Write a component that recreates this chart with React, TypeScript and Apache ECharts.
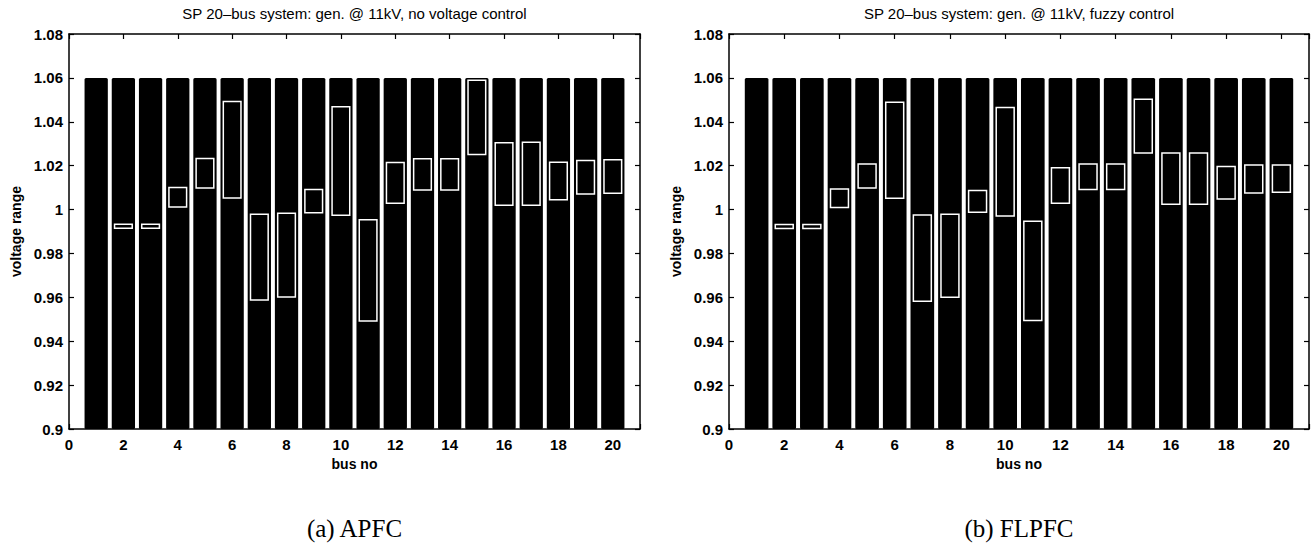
import React, { useEffect, useRef } from "react";
import * as echarts from "echarts";

// ---- data ----
const busNumbers = [1, 2, 3, 4, 5, 6, 7, 8, 9, 10, 11, 12, 13, 14, 15, 16, 17, 18, 19, 20];
const limitLow = [0.9, 0.9, 0.9, 0.9, 0.9, 0.9, 0.9, 0.9, 0.9, 0.9, 0.9, 0.9, 0.9, 0.9, 0.9, 0.9, 0.9, 0.9, 0.9, 0.9];
const limitHigh = [1.06, 1.06, 1.06, 1.06, 1.06, 1.06, 1.06, 1.06, 1.06, 1.06, 1.06, 1.06, 1.06, 1.06, 1.06, 1.06, 1.06, 1.06, 1.06, 1.06];

const apfcMin = [null, 0.9915, 0.9915, 1.0012, 1.0098, 1.0053, 0.9588, 0.9601, 0.9986, 0.9974, 0.9492, 1.0029, 1.0089, 1.0089, 1.0251, 1.002, 1.002, 1.0045, 1.0071, 1.0074];
const apfcMax = [null, 0.9933, 0.9933, 1.01, 1.0233, 1.0492, 0.9979, 0.9983, 1.0091, 1.0468, 0.9953, 1.0214, 1.0232, 1.0232, 1.0589, 1.0305, 1.0307, 1.0216, 1.0224, 1.0227];

const flpfcMin = [null, 0.9914, 0.9914, 1.0009, 1.0098, 1.0051, 0.9582, 0.96, 0.9988, 0.9971, 0.9494, 1.0029, 1.0091, 1.0091, 1.0258, 1.0024, 1.0024, 1.0048, 1.0076, 1.0079];
const flpfcMax = [null, 0.9932, 0.9932, 1.0094, 1.0208, 1.0489, 0.9975, 0.9979, 1.0087, 1.0465, 0.9947, 1.0191, 1.0208, 1.0208, 1.0503, 1.0258, 1.0258, 1.0196, 1.0203, 1.0203];

const yTickValues = [0.9, 0.92, 0.94, 0.96, 0.98, 1, 1.02, 1.04, 1.06, 1.08];
const xTickValues = [0, 2, 4, 6, 8, 10, 12, 14, 16, 18, 20];

const titles = [
  "SP 20\u2013bus system: gen. @ 11kV, no voltage control",
  "SP 20\u2013bus system: gen. @ 11kV, fuzzy control",
];
const captions = ["(a) APFC", "(b) FLPFC"];

const SANS = "'Liberation Sans', Arial, Helvetica, sans-serif";
const SERIF = "'Liberation Serif', 'Times New Roman', serif";

const grids = [
  { left: 69, top: 34, width: 571, height: 395 },
  { left: 729, top: 34, width: 580, height: 395 },
];

export default function App() {
  const ref = useRef<HTMLDivElement>(null);

  useEffect(() => {
    document.body.style.margin = "0";
    if (!ref.current) return;
    const chart = echarts.init(ref.current, null, { renderer: "svg" });

    const yMin = yTickValues[0];
    const yMax = yTickValues[yTickValues.length - 1];

    const xAxes: any[] = [];
    const yAxes: any[] = [];
    const series: any[] = [];
    const graphics: any[] = [];

    const ranges = [
      [apfcMin, apfcMax],
      [flpfcMin, flpfcMax],
    ];

    grids.forEach((g, gi) => {
      const axisLine = { show: true, onZero: false, lineStyle: { color: "#000", width: 1.5 } };
      const tick = { show: true, inside: true, length: 5, lineStyle: { color: "#000", width: 1.2 } };
      xAxes.push({
        type: "value",
        gridIndex: gi,
        position: "bottom",
        min: 0,
        max: 21,
        interval: 2,
        axisLine,
        axisTick: tick,
        splitLine: { show: false },
        axisLabel: {
          color: "#000",
          fontFamily: SANS,
          fontWeight: "bold",
          fontSize: 15,
          margin: 8,
          formatter: (v: number) => (xTickValues.includes(v) ? String(v) : ""),
        },
        name: "bus no",
        nameLocation: "middle",
        nameGap: 27,
        nameTextStyle: { color: "#000", fontFamily: SANS, fontWeight: "bold", fontSize: 14 },
      });
      xAxes.push({
        type: "value",
        gridIndex: gi,
        position: "top",
        min: 0,
        max: 21,
        interval: 2,
        axisLine,
        axisTick: tick,
        splitLine: { show: false },
        axisLabel: { show: false },
      });
      yAxes.push({
        type: "value",
        gridIndex: gi,
        position: "left",
        min: yMin,
        max: yMax,
        interval: 0.02,
        axisLine,
        axisTick: tick,
        splitLine: { show: false },
        axisLabel: {
          color: "#000",
          fontFamily: SANS,
          fontWeight: "bold",
          fontSize: 15,
          margin: 6,
          formatter: (v: number) => String(Number(v.toFixed(2))),
        },
        name: "voltage range",
        nameLocation: "middle",
        nameGap: 46,
        nameTextStyle: { color: "#000", fontFamily: SANS, fontWeight: "bold", fontSize: 14 },
      });
      yAxes.push({
        type: "value",
        gridIndex: gi,
        position: "right",
        min: yMin,
        max: yMax,
        interval: 0.02,
        axisLine,
        axisTick: tick,
        splitLine: { show: false },
        axisLabel: { show: false },
      });

      const xIdx = gi * 2;
      const yIdx = gi * 2;

      series.push({
        type: "custom",
        xAxisIndex: xIdx,
        yAxisIndex: yIdx,
        z: 3,
        encode: { x: 0, y: [1, 2] },
        data: busNumbers.map((b, i) => [b, limitLow[i], limitHigh[i]]),
        renderItem: (params: any, api: any) => {
          const x = api.value(0);
          const p1 = api.coord([x - 0.428, api.value(2)]);
          const p2 = api.coord([x + 0.428, api.value(1)]);
          return {
            type: "rect",
            shape: { x: p1[0], y: p1[1], width: p2[0] - p1[0], height: p2[1] - p1[1], r: 1.5 },
            style: { fill: "#000", stroke: null },
          };
        },
      });

      const [mins, maxs] = ranges[gi];
      series.push({
        type: "custom",
        xAxisIndex: xIdx,
        yAxisIndex: yIdx,
        z: 4,
        encode: { x: 0, y: [1, 2] },
        data: busNumbers
          .map((b, i) => (mins[i] == null ? null : [b, mins[i], maxs[i]]))
          .filter((d) => d !== null),
        renderItem: (params: any, api: any) => {
          const x = api.value(0);
          const p1 = api.coord([x - 0.325, api.value(2)]);
          const p2 = api.coord([x + 0.325, api.value(1)]);
          return {
            type: "rect",
            shape: { x: p1[0], y: p1[1], width: p2[0] - p1[0], height: p2[1] - p1[1] },
            style: { fill: "none", stroke: "#fff", lineWidth: 1.5 },
          };
        },
      });

      const cx = g.left + g.width / 2;
      graphics.push({
        type: "text",
        x: cx,
        y: 13,
        style: {
          text: titles[gi],
          fill: "#000",
          font: `15px ${SANS}`,
          textAlign: "center",
          textVerticalAlign: "middle",
        },
      });
      graphics.push({
        type: "text",
        x: cx,
        y: 528,
        style: {
          text: captions[gi],
          fill: "#000",
          font: `25px ${SERIF}`,
          textAlign: "center",
          textVerticalAlign: "middle",
        },
      });
    });

    chart.setOption({
      animation: false,
      backgroundColor: "#fff",
      grid: grids.map((g) => ({ ...g, containLabel: false })),
      xAxis: xAxes,
      yAxis: yAxes,
      series,
      graphic: graphics,
    });

    return () => chart.dispose();
  }, []);

  return <div ref={ref} style={{ width: 1315, height: 549 }} />;
}
